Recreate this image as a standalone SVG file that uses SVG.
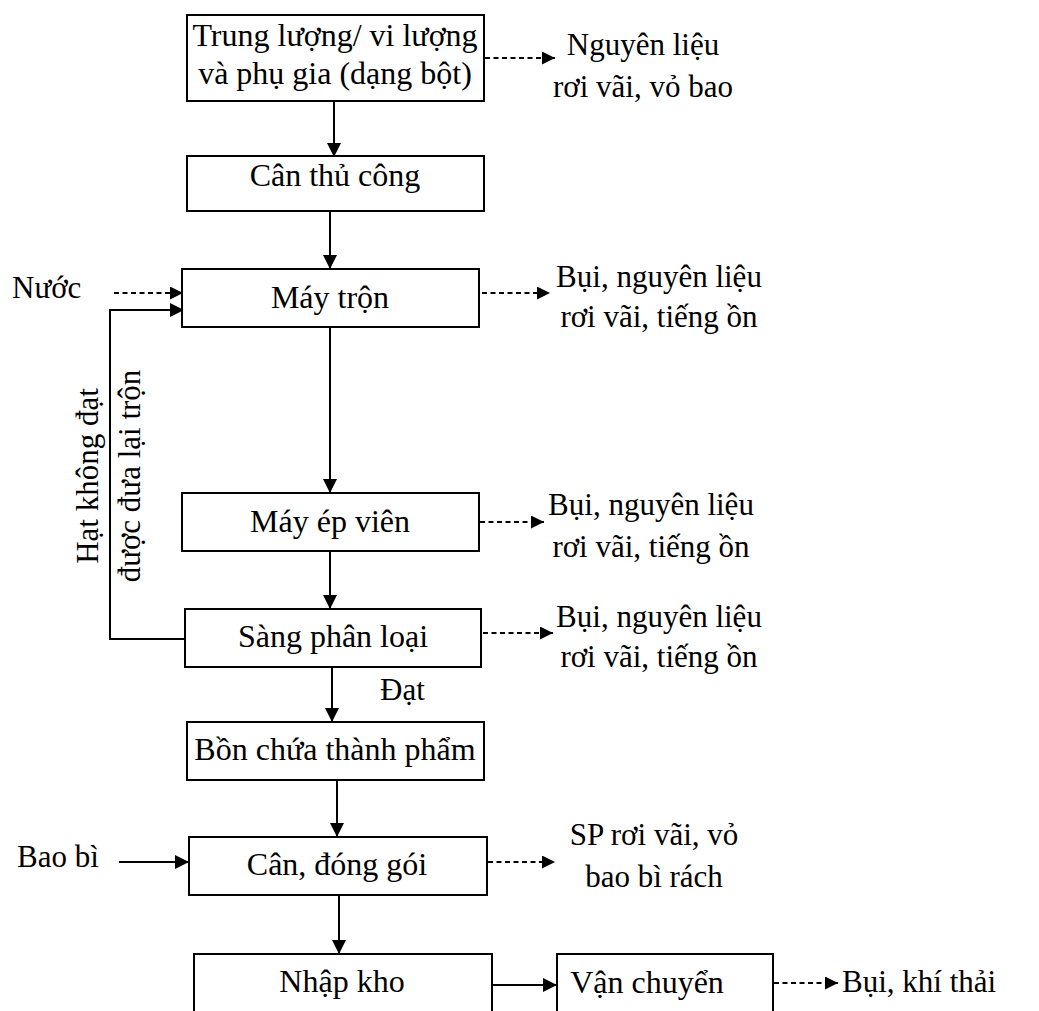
<svg xmlns="http://www.w3.org/2000/svg" width="1039" height="1011" viewBox="0 0 1039 1011">
<style>
.box{fill:#fff;stroke:#000;stroke-width:2}
.t{font-family:"Liberation Serif","Times New Roman",serif;font-size:32px;fill:#000}
.s{font-family:"Liberation Serif","Times New Roman",serif;font-size:31px;fill:#000}
.m{text-anchor:middle}
.ln{stroke:#000;stroke-width:2;fill:none}
.ds{stroke:#000;stroke-width:2;fill:none;stroke-dasharray:5,3.5}
</style>
<defs>
<marker id="a" markerWidth="14" markerHeight="14" refX="13" refY="7" orient="auto" markerUnits="userSpaceOnUse"><path d="M0,0 L14,7 L0,14 Z" fill="#000"/></marker>
<marker id="d" markerWidth="13" markerHeight="13" refX="13" refY="6.5" orient="auto" markerUnits="userSpaceOnUse"><path d="M0,0 L13,6.5 L0,13 Z" fill="#000"/></marker>
</defs>
<g id="connectors">
<line class="ln" x1="334" y1="101" x2="334" y2="156" marker-end="url(#a)"/>
<line class="ln" x1="330" y1="212" x2="330" y2="268" marker-end="url(#a)"/>
<line class="ln" x1="330" y1="327" x2="330" y2="492" marker-end="url(#a)"/>
<line class="ln" x1="330" y1="551" x2="330" y2="608" marker-end="url(#a)"/>
<line class="ln" x1="332" y1="667" x2="332" y2="721" marker-end="url(#a)"/>
<line class="ln" x1="337" y1="780" x2="337" y2="836" marker-end="url(#a)"/>
<line class="ln" x1="339" y1="896" x2="339" y2="953" marker-end="url(#a)"/>
<line class="ln" x1="492" y1="985" x2="556" y2="985" marker-end="url(#a)"/>
<line class="ln" x1="119" y1="862" x2="188" y2="862" marker-end="url(#a)"/>
<line class="ds" x1="114" y1="293" x2="183" y2="293" marker-end="url(#d)"/>
<polyline class="ln" points="185,639 110,639 110,310 183,310" marker-end="url(#a)"/>
<line class="ds" x1="485" y1="58" x2="555" y2="58" marker-end="url(#d)"/>
<line class="ds" x1="482" y1="293" x2="550" y2="293" marker-end="url(#d)"/>
<line class="ds" x1="480" y1="522" x2="544" y2="522" marker-end="url(#d)"/>
<line class="ds" x1="483" y1="633" x2="553" y2="633" marker-end="url(#d)"/>
<line class="ds" x1="488" y1="862" x2="555" y2="862" marker-end="url(#d)"/>
<line class="ds" x1="774" y1="983" x2="838" y2="983" marker-end="url(#d)"/>
<text class="s" x="380" y="700">Đạt</text>
<text class="s" x="12" y="298">Nước</text>
<text class="s" x="17" y="867">Bao bì</text>
<text class="s m" transform="translate(98,476) rotate(-90)">Hạt không đạt</text>
<text class="s m" transform="translate(140,476) rotate(-90)">được đưa lại trộn</text>
</g>
<g id="n1"><rect class="box" x="187" y="15" width="297" height="86"/><text class="t m" x="335" y="46">Trung lượng/ vi lượng</text><text class="t m" x="335" y="84">và phụ gia (dạng bột)</text></g>
<g id="n2"><rect class="box" x="187" y="156" width="297" height="55"/><text class="t m" x="335" y="186">Cân thủ công</text></g>
<g id="n3"><rect class="box" x="182" y="269" width="297" height="58"/><text class="t m" x="330" y="308">Máy trộn</text></g>
<g id="n4"><rect class="box" x="182" y="493" width="297" height="58"/><text class="t m" x="330" y="532">Máy ép viên</text></g>
<g id="n5"><rect class="box" x="185" y="609" width="296" height="58"/><text class="t m" x="333" y="647">Sàng phân loại</text></g>
<g id="n6"><rect class="box" x="187" y="722" width="297" height="58"/><text class="t m" x="335" y="760">Bồn chứa thành phẩm</text></g>
<g id="n7"><rect class="box" x="189" y="837" width="298" height="58"/><text class="t m" x="337" y="875">Cân, đóng gói</text></g>
<g id="n8"><rect class="box" x="194" y="954" width="298" height="70"/><text class="t m" x="342" y="992">Nhập kho</text></g>
<g id="n9"><rect class="box" x="557" y="954" width="216" height="70"/><text class="t m" x="647" y="993">Vận chuyển</text></g>
<g id="o1"><text class="s m" x="643" y="55">Nguyên liệu</text><text class="s m" x="643" y="97">rơi vãi, vỏ bao</text></g>
<g id="o2"><text class="s m" x="659" y="287">Bụi, nguyên liệu</text><text class="s m" x="659" y="327">rơi vãi, tiếng ồn</text></g>
<g id="o3"><text class="s m" x="651" y="515">Bụi, nguyên liệu</text><text class="s m" x="651" y="557">rơi vãi, tiếng ồn</text></g>
<g id="o4"><text class="s m" x="659" y="627">Bụi, nguyên liệu</text><text class="s m" x="659" y="667">rơi vãi, tiếng ồn</text></g>
<g id="o5"><text class="s m" x="654" y="845">SP rơi vãi, vỏ</text><text class="s m" x="654" y="887">bao bì rách</text></g>
<g id="o6"><text class="s" x="842" y="992">Bụi, khí thải</text></g>
</svg>
